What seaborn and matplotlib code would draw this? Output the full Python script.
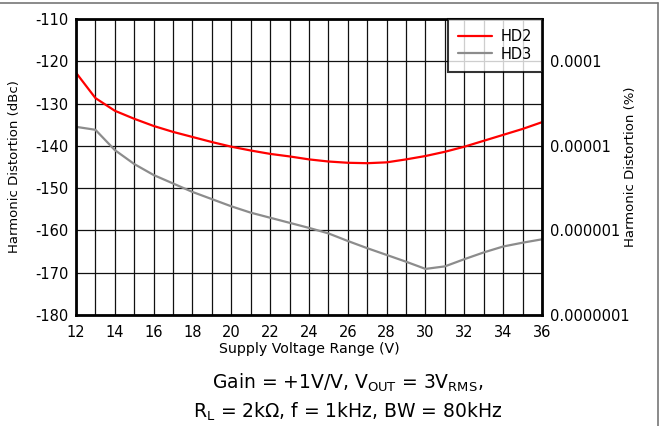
import numpy as np
import pandas as pd
import matplotlib
matplotlib.use("Agg")
import matplotlib.pyplot as plt
import seaborn as sns
from matplotlib.lines import Line2D

voltage = [12, 13, 14, 15, 16, 17, 18, 19, 20, 21, 22, 23, 24,
           25, 26, 27, 28, 29, 30, 31, 32, 33, 34, 35, 36]
hd2 = [-122.7, -128.7, -131.7, -133.6, -135.3, -136.7, -137.9, -139.1, -140.2,
       -141.1, -141.9, -142.5, -143.2, -143.7, -144.0, -144.1, -143.9, -143.2,
       -142.4, -141.4, -140.2, -138.8, -137.4, -136.0, -134.4]
hd3 = [-135.5, -136.2, -141.0, -144.3, -146.9, -148.9, -150.9, -152.6, -154.3,
       -155.8, -157.0, -158.2, -159.4, -160.7, -162.5, -164.2, -165.8, -167.4,
       -169.1, -168.5, -166.8, -165.2, -163.8, -162.9, -162.1]
series_names = ["HD2", "HD3"]
pct_ticks = [1e-4, 1e-5, 1e-6, 1e-7]
pct_labels = ["0.0001", "0.00001", "0.000001", "0.0000001"]

df = pd.DataFrame({
    "Voltage": voltage * 2,
    "dBc": hd2 + hd3,
    "Series": [series_names[0]] * len(voltage) + [series_names[1]] * len(voltage),
})

sns.set_style("white")
plt.rcParams["font.family"] = ["DejaVu Sans"]
plt.rcParams["mathtext.fontset"] = "dejavusans"
plt.rcParams["text.color"] = "black"
plt.rcParams["axes.labelcolor"] = "black"
plt.rcParams["xtick.color"] = "black"
plt.rcParams["ytick.color"] = "black"

fig = plt.figure(figsize=(6.6, 4.26), dpi=100)
ax = fig.add_axes([76 / 660, 1 - 315 / 426, 466 / 660, 296 / 426])

sns.lineplot(data=df, x="Voltage", y="dBc", hue="Series",
             palette={"HD2": "#ff0000", "HD3": "#8c8c8c"}, linewidth=1.6, ax=ax)

ax.set_xlim(12, 36)
ax.set_ylim(-180, -110)
ax.set_xticks(np.arange(12, 37, 2))
ax.set_xticks(np.arange(12, 37, 1), minor=True)
ax.set_yticks(np.arange(-180, -109, 10))
ax.set_yticklabels([str(v) for v in range(-180, -109, 10)])
ax.grid(True, which="both", color="#111111", linewidth=0.9)
ax.set_axisbelow(True)
ax.tick_params(axis="both", which="both", length=0, labelsize=10.5)
ax.tick_params(axis="x", pad=7)
ax.tick_params(axis="y", pad=5.5)
for s in ax.spines.values():
    s.set_color("black")
    s.set_linewidth(2)
ax.set_xlabel("Supply Voltage Range (V)", fontsize=10.2, labelpad=2)
ax.set_ylabel("Harmonic Distortion (dBc)", fontsize=9.5)
ax.yaxis.set_label_coords(-0.131, 0.5)
ax.yaxis.label.set_va("center")

leg = ax.legend(loc="upper right", fontsize=10.5, frameon=True, fancybox=False,
                borderaxespad=0, handlelength=2.3, borderpad=0.7,
                labelspacing=0.16, handletextpad=0.6)
leg.get_frame().set_edgecolor("black")
leg.get_frame().set_linewidth(1.5)
leg.set_title(None)

ax2 = ax.twinx()
ax2.set_yscale("log")
ax2.set_ylim(1e-7, 10 ** (-110 / 20) * 100)
ax2.set_yticks(pct_ticks)
ax2.set_yticklabels(pct_labels)
ax2.yaxis.set_minor_locator(matplotlib.ticker.NullLocator())
ax2.tick_params(axis="y", length=0, labelsize=10.5, pad=5.5)
ax2.set_ylabel("Harmonic Distortion (%)", fontsize=9.5)
ax2.yaxis.set_label_coords(1.189, 0.5)
ax2.yaxis.label.set_va("center")
for s in ax2.spines.values():
    s.set_visible(False)

fig.text(348 / 660, 1 - 383 / 426, r"Gain = +1V/V, V$_{\mathrm{OUT}}$ = 3V$_{\mathrm{RMS}}$,",
         ha="center", va="center", fontsize=13.5)
fig.text(348 / 660, 1 - 412 / 426, r"R$_{\mathrm{L}}$ = 2k$\Omega$, f = 1kHz, BW = 80kHz",
         ha="center", va="center", fontsize=13.5)

fig.add_artist(Line2D([0, 657.5 / 660], [1 - 2.5 / 426, 1 - 2.5 / 426],
                      transform=fig.transFigure, color="#777777", linewidth=1.2))
fig.add_artist(Line2D([657.5 / 660, 657.5 / 660], [0, 1 - 2.5 / 426],
                      transform=fig.transFigure, color="#777777", linewidth=1.2))

fig.savefig("out.png", dpi=100)
